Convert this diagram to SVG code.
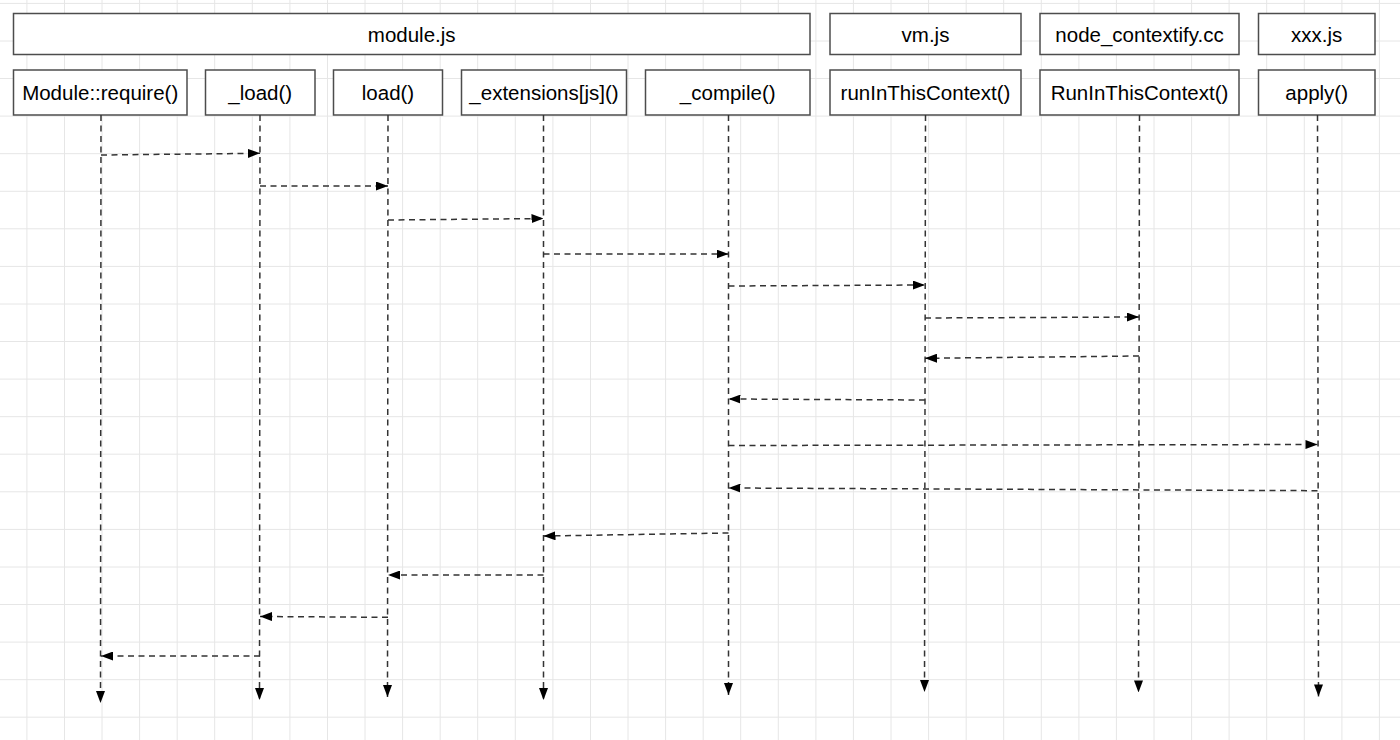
<svg xmlns="http://www.w3.org/2000/svg" width="1400" height="740" viewBox="0 0 1400 740">
<style>
.grid{stroke:#e6e6e6;stroke-width:1;fill:none}
.box{fill:#ffffff;stroke:#4d4d4d;stroke-width:1.5}
.lbl{font-family:"Liberation Sans",Arial,Helvetica,sans-serif;font-size:20.5px;fill:#000;text-anchor:middle}
.ln{fill:none;stroke:#333333;stroke-width:1.5;stroke-dasharray:6 4.5}
</style>
<defs>
<marker id="ah" markerUnits="userSpaceOnUse" markerWidth="12" markerHeight="9" refX="12" refY="4.5" orient="auto" viewBox="0 0 12 9">
<path d="M0,0 L12,4.5 L0,9 Z" fill="#000"/>
</marker>
</defs>
<rect width="1400" height="740" fill="#ffffff"/>
<path class="grid" d="M26.9,0V740M64.5,0V740M102,0V740M139.6,0V740M177.2,0V740M214.7,0V740M252.3,0V740M289.9,0V740M327.5,0V740M365,0V740M402.6,0V740M440.2,0V740M477.7,0V740M515.3,0V740M552.9,0V740M590.5,0V740M628,0V740M665.6,0V740M703.2,0V740M740.7,0V740M778.3,0V740M815.9,0V740M853.4,0V740M891,0V740M928.6,0V740M966.2,0V740M1003.7,0V740M1041.3,0V740M1078.9,0V740M1116.4,0V740M1154,0V740M1191.6,0V740M1229.1,0V740M1266.7,0V740M1304.3,0V740M1341.9,0V740M1379.4,0V740M0,3.4H1400M0,41H1400M0,78.5H1400M0,116.1H1400M0,153.7H1400M0,191.3H1400M0,228.8H1400M0,266.4H1400M0,304H1400M0,341.5H1400M0,379.1H1400M0,416.7H1400M0,454.2H1400M0,491.8H1400M0,529.4H1400M0,567H1400M0,604.5H1400M0,642.1H1400M0,679.7H1400M0,717.2H1400"/>
<g id="module_js"><rect class="box" x="13.5" y="13.5" width="796.5" height="41"/><text class="lbl" x="411.7" y="42">module.js</text></g>
<g id="vm_js"><rect class="box" x="830" y="13.5" width="191" height="41"/><text class="lbl" x="925.5" y="42">vm.js</text></g>
<g id="node_contextify_cc"><rect class="box" x="1040" y="13.5" width="199" height="41"/><text class="lbl" x="1139.5" y="42">node_contextify.cc</text></g>
<g id="xxx_js"><rect class="box" x="1258.5" y="13.5" width="116.5" height="41"/><text class="lbl" x="1316.7" y="42">xxx.js</text></g>
<g id="require"><rect class="box" x="13.5" y="70" width="173.5" height="45"/><text class="lbl" x="100.2" y="100">Module::require()</text></g>
<g id="_load"><rect class="box" x="205.5" y="70" width="109.5" height="45"/><text class="lbl" x="260.2" y="100">_load()</text></g>
<g id="load"><rect class="box" x="333.5" y="70" width="109" height="45"/><text class="lbl" x="388" y="100">load()</text></g>
<g id="_extensions"><rect class="box" x="461.5" y="70" width="165" height="45"/><text class="lbl" x="544" y="100">_extensions[js]()</text></g>
<g id="_compile"><rect class="box" x="645.5" y="70" width="164.5" height="45"/><text class="lbl" x="727.7" y="100">_compile()</text></g>
<g id="runInThisContext"><rect class="box" x="830" y="70" width="191" height="45"/><text class="lbl" x="925.5" y="100">runInThisContext()</text></g>
<g id="RunInThisContext"><rect class="box" x="1040" y="70" width="199" height="45"/><text class="lbl" x="1139.5" y="100">RunInThisContext()</text></g>
<g id="apply"><rect class="box" x="1258.5" y="70" width="116.5" height="45"/><text class="lbl" x="1316.7" y="100">apply()</text></g>
<g id="connectors">
<path class="ln" marker-end="url(#ah)" d="M101,115 L100.5,703"/>
<path class="ln" marker-end="url(#ah)" d="M260,115 L259.5,700"/>
<path class="ln" marker-end="url(#ah)" d="M388,115 L387.5,697"/>
<path class="ln" marker-end="url(#ah)" d="M543.5,115 L543.5,700"/>
<path class="ln" marker-end="url(#ah)" d="M728.5,115 L728.5,695"/>
<path class="ln" marker-end="url(#ah)" d="M925.5,115 L924.5,692"/>
<path class="ln" marker-end="url(#ah)" d="M1139.5,115 L1138.5,692.5"/>
<path class="ln" marker-end="url(#ah)" d="M1317.5,115 L1318.5,696.5"/>
<path class="ln" marker-end="url(#ah)" d="M101,155 L260,153.3"/>
<path class="ln" marker-end="url(#ah)" d="M260,186 L388,186"/>
<path class="ln" marker-end="url(#ah)" d="M388,220 L543.5,218.5"/>
<path class="ln" marker-end="url(#ah)" d="M543.5,254 L728.5,254"/>
<path class="ln" marker-end="url(#ah)" d="M728.5,286 L925,285"/>
<path class="ln" marker-end="url(#ah)" d="M925,318 L1139,317"/>
<path class="ln" marker-end="url(#ah)" d="M1139,356 L925,358.3"/>
<path class="ln" marker-end="url(#ah)" d="M925,400 L728.5,399"/>
<path class="ln" marker-end="url(#ah)" d="M728.5,445.5 L1317.5,444.5"/>
<path class="ln" marker-end="url(#ah)" d="M1317.5,490.7 L728.5,488"/>
<path class="ln" marker-end="url(#ah)" d="M728.5,533 L543.5,536"/>
<path class="ln" marker-end="url(#ah)" d="M543.5,575 L388,575"/>
<path class="ln" marker-end="url(#ah)" d="M388,617.3 L260,616.5"/>
<path class="ln" marker-end="url(#ah)" d="M260,656 L101,656"/>
</g>
</svg>
